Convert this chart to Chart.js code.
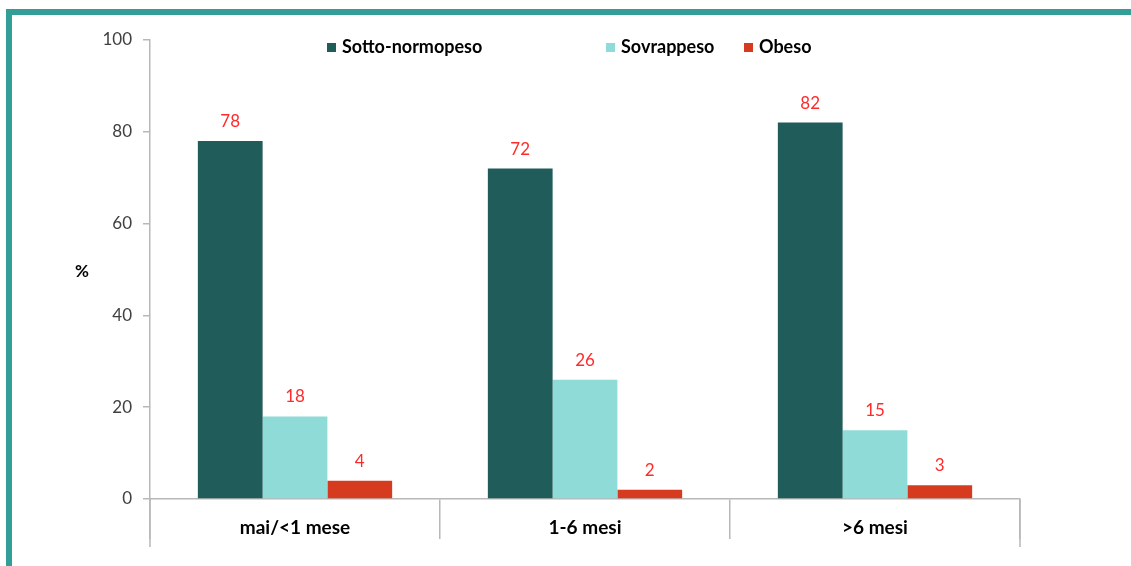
<!DOCTYPE html>
<html>
<head>
<meta charset="utf-8">
<script src="https://cdn.jsdelivr.net/npm/chart.js@4/dist/chart.umd.min.js"></script>
<style>
  html, body { margin: 0; padding: 0; background: #fff; }
  #wrap { position: relative; width: 1131px; height: 566px; overflow: hidden; }
  #frame { position: absolute; left: 6px; top: 9px; right: 0; bottom: -10px;
           border-top: 6px solid #339e98; border-left: 6px solid #339e98; }
  #chartCanvas { position: absolute; left: 0; top: 0; }
</style>
</head>
<body>
<div id="wrap">
  <div id="frame"></div>
  <canvas id="chartCanvas" width="1131" height="566"></canvas>
</div>
<script>
// Dati
const categorie = ["mai/<1 mese", "1-6 mesi", ">6 mesi"];
const sottoNormopeso = [78, 72, 82];
const sovrappeso = [18, 26, 15];
const obeso = [4, 2, 3];
const yTicks = [0, 20, 40, 60, 80, 100];

const coloreScuro = "#1f5c5a";
const coloreChiaro = "#8fdbd8";
const coloreRosso = "#d63b1f";
const font = "Lato, 'Open Sans', sans-serif";

// Legenda personalizzata (spaziatura irregolare come nell'originale)
const legendaPlugin = {
    id: "legenda",
    afterDraw(chart) {
        const ctx = chart.ctx;
        const left = chart.chartArea.left;
        const offsets = [177, 456, 594];
        ctx.save();
        ctx.font = "bold 18px " + font;
        ctx.textBaseline = "middle";
        chart.data.datasets.forEach((ds, i) => {
            const x = left + offsets[i];
            ctx.fillStyle = ds.backgroundColor;
            ctx.fillRect(x, 43, 9, 9);
            ctx.fillStyle = "#000";
            ctx.fillText(ds.label, x + 15, 47);
        });
        ctx.restore();
    }
};

// Etichette dei valori sopra le barre + simbolo % + linee dell'asse
const etichettePlugin = {
    id: "etichette",
    afterDatasetsDraw(chart) {
        const ctx = chart.ctx;
        ctx.save();
        ctx.font = "17px " + font;
        ctx.fillStyle = "#ff2a2a";
        ctx.textAlign = "center";
        ctx.textBaseline = "alphabetic";
        chart.data.datasets.forEach((ds, i) => {
            chart.getDatasetMeta(i).data.forEach((bar, j) => {
                ctx.fillText(ds.data[j], bar.x, bar.y - 14);
            });
        });

        const area = chart.chartArea;
        ctx.font = "bold 17px " + font;
        ctx.fillStyle = "#000";
        ctx.textBaseline = "middle";
        ctx.fillText("%", area.left - 68, (area.top + area.bottom) / 2 + 2);

        ctx.strokeStyle = "#b8b8b8";
        ctx.lineWidth = 1.5;
        ctx.beginPath();
        ctx.moveTo(area.left, area.bottom);
        ctx.lineTo(area.left, area.bottom + 48);
        ctx.moveTo(area.right, area.bottom);
        ctx.lineTo(area.right, area.bottom + 48);
        ctx.stroke();
        ctx.restore();
    }
};

const ctx = document.getElementById("chartCanvas").getContext("2d");
const chart = new Chart(ctx, {
    type: "bar",
    data: {
        labels: categorie,
        datasets: [
            { label: "Sotto-normopeso", data: sottoNormopeso, backgroundColor: coloreScuro },
            { label: "Sovrappeso", data: sovrappeso, backgroundColor: coloreChiaro },
            { label: "Obeso", data: obeso, backgroundColor: coloreRosso }
        ]
    },
    options: {
        responsive: false,
        animation: false,
        layout: { padding: { left: 0, right: 111, top: 40, bottom: 0 } },
        plugins: {
            legend: { display: false },
            tooltip: { enabled: false }
        },
        datasets: {
            bar: { barPercentage: 1, categoryPercentage: 0.67 }
        },
        scales: {
            x: {
                grid: { display: true, offset: true, drawOnChartArea: false, drawTicks: true,
                        tickLength: 40, color: "#b8b8b8", lineWidth: 1.5 },
                border: { display: true, color: "#b8b8b8", width: 1.5 },
                ticks: { color: "#000", padding: -23, font: { family: font, size: 19, weight: "bold" } },
                afterFit: s => { s.height = 67; }
            },
            y: {
                min: 0,
                max: 100,
                afterBuildTicks: s => { s.ticks = yTicks.map(v => ({ value: v })); },
                grid: { display: true, drawOnChartArea: false, drawTicks: true,
                        tickLength: 7, color: "#b8b8b8", lineWidth: 1.5 },
                border: { display: true, color: "#b8b8b8", width: 1.5 },
                ticks: { color: "#404040", padding: 11, font: { family: font, size: 17 } },
                afterFit: s => { s.width = 150; }
            }
        }
    },
    plugins: [legendaPlugin, etichettePlugin]
});
</script>
</body>
</html>
